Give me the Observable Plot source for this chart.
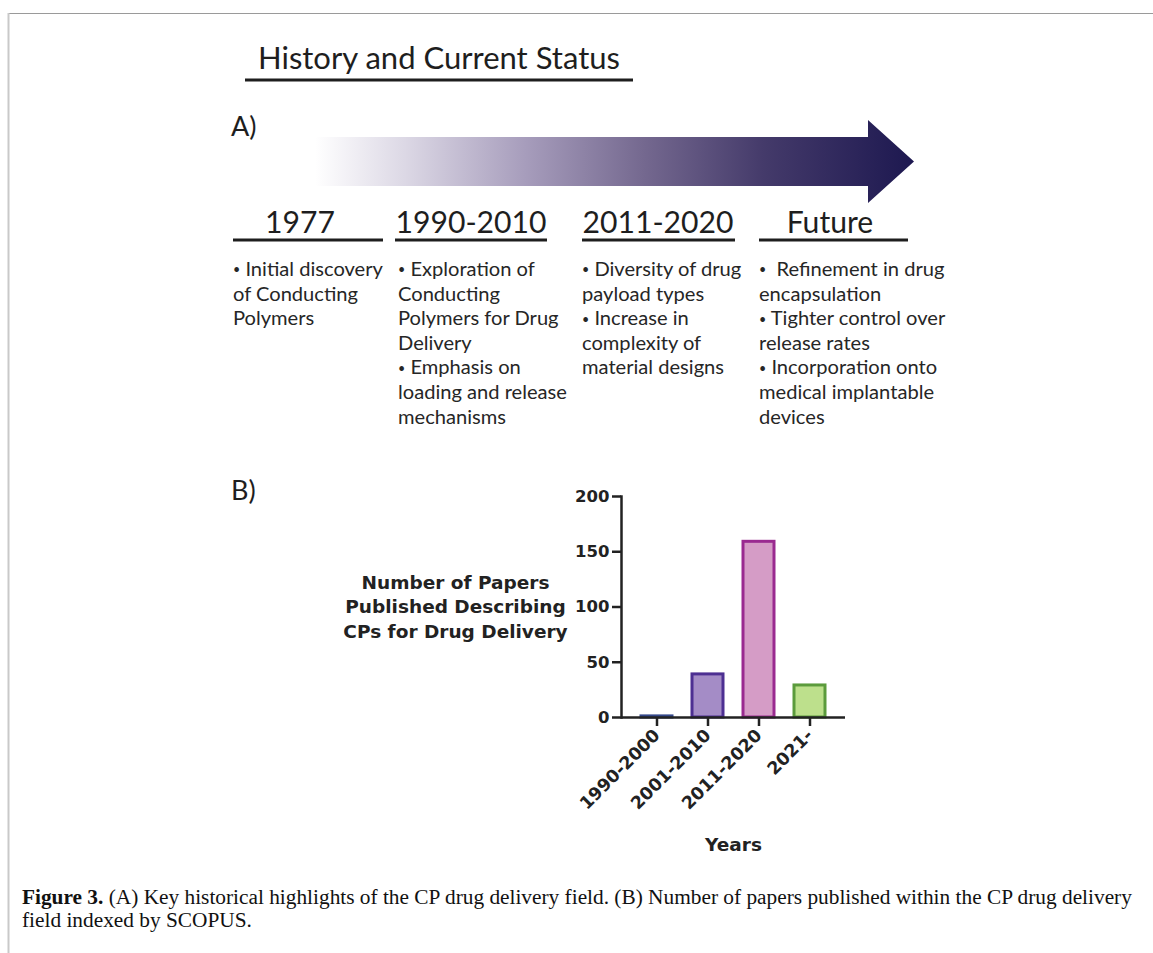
<!DOCTYPE html>
<html><head><meta charset="utf-8">
<script src="https://cdn.jsdelivr.net/npm/d3@7"></script>
<script src="https://cdn.jsdelivr.net/npm/@observablehq/plot@0.6"></script>
<style>
html,body{margin:0;padding:0;background:#fff;width:1153px;height:953px;overflow:hidden;}
#page{position:relative;width:1153px;height:953px;}
#deco{position:absolute;left:0;top:0;}
#chart{position:absolute;left:340px;top:470px;}
#caption{position:absolute;left:22px;top:886px;width:1115px;font-family:"Liberation Serif","Times New Roman",serif;color:#111;line-height:23px;white-space:nowrap;}
</style></head><body>
<div id="page">
<svg id="deco" width="1153" height="953"></svg>
<div id="chart"></div>
<div id="caption"></div>
</div>
<script>
// ---- data ----
const sectionTitle = "History and Current Status";
const periods = ["1977", "1990-2010", "2011-2020", "Future"];
const periodNotes = [
  ["• Initial discovery", "of Conducting", "Polymers"],
  ["• Exploration of", "Conducting", "Polymers for Drug", "Delivery", "• Emphasis on", "loading and release", "mechanisms"],
  ["• Diversity of drug", "payload types", "• Increase in", "complexity of", "material designs"],
  ["•  Refinement in drug", "encapsulation", "• Tighter control over", "release rates", "• Incorporation onto", "medical implantable", "devices"]
];
const decades = ["1990-2000", "2001-2010", "2011-2020", "2021-"];
const papers = [1, 39, 159, 29];
const barFills = ["#3d4f8f", "#a48cc6", "#d59cc6", "#bde08c"];
const barStrokes = ["#34488a", "#4d2f92", "#9a2a90", "#5b9b3c"];
const yTicks = [0, 50, 100, 150, 200];
const yLabel = "Number of Papers\nPublished Describing\nCPs for Drug Delivery";
const xLabel = "Years";
const captionBold = "Figure 3.";
const captionLine1 = " (A) Key historical highlights of the CP drug delivery field. (B) Number of papers published within the CP drug delivery";
const captionLine2 = "field indexed by SCOPUS.";

// ---- decoration (panel A) ----
const svg = d3.select("#deco");
const topFont = "Lato, 'Open Sans', sans-serif";
const ink = "#1e1e1e";
function fit(sel, target) {
  const w = sel.node().getComputedTextLength();
  const fs = parseFloat(sel.attr("font-size"));
  sel.attr("font-size", (fs * target / w).toFixed(2));
  return fs * target / w;
}
svg.append("line").attr("x1", 8).attr("x2", 1153).attr("y1", 13.5).attr("y2", 13.5).attr("stroke", "#9a9a9a").attr("stroke-width", 1.2);
svg.append("line").attr("x1", 8.5).attr("x2", 8.5).attr("y1", 13).attr("y2", 953).attr("stroke", "#c9c9c9").attr("stroke-width", 2);

const t = svg.append("text").attr("x", 258).attr("y", 69).attr("font-family", topFont).attr("font-size", 28).attr("fill", ink).text(sectionTitle);
fit(t, 362);
svg.append("line").attr("x1", 245).attr("x2", 633).attr("y1", 80).attr("y2", 80).attr("stroke", ink).attr("stroke-width", 3);

svg.append("text").attr("x", 231).attr("y", 136).attr("font-family", topFont).attr("font-size", 27).attr("fill", ink).text("A)");
svg.append("text").attr("x", 231).attr("y", 500).attr("font-family", topFont).attr("font-size", 27).attr("fill", ink).text("B)");

const defs = svg.append("defs");
const grad = defs.append("linearGradient").attr("id", "ag").attr("gradientUnits", "userSpaceOnUse").attr("x1", 315).attr("x2", 914).attr("y1", 0).attr("y2", 0);
[[0, "#ffffff"], [0.15, "#dcd8e5"], [0.35, "#a79dbc"], [0.55, "#74688f"], [0.75, "#443a6a"], [1, "#1d1850"]].forEach(([o, c]) => grad.append("stop").attr("offset", o).attr("stop-color", c));
svg.append("path").attr("d", "M315,137H868V120L914,161.5L868,203V186H315Z").attr("fill", "url(#ag)");

const headX = [300, 471, 658, 830];
const lineSpans = [[233, 383], [395, 547], [582, 735], [759, 908]];
const colX = [233, 398, 582, 759];
const heads = periods.map((p, i) => svg.append("text").attr("x", headX[i]).attr("y", 233).attr("text-anchor", "middle").attr("font-family", topFont).attr("font-size", 30).attr("fill", ink).text(p));
const hs = fit(heads[1], 151);
heads.forEach(h => h.attr("font-size", hs.toFixed(2)));
lineSpans.forEach(([a, b]) => svg.append("line").attr("x1", a).attr("x2", b).attr("y1", 240).attr("y2", 240).attr("stroke", ink).attr("stroke-width", 3));

const probe = svg.append("text").attr("font-family", topFont).attr("font-size", 18).text("loading and release");
const bs = fit(probe, 169);
probe.remove();
periodNotes.forEach((lines, i) => {
  lines.forEach((s, j) => {
    const tx = svg.append("text").attr("x", colX[i]).attr("y", 276 + j * 24.6).attr("font-family", topFont).attr("font-size", bs.toFixed(2)).attr("fill", "#262626").style("white-space", "pre");
    if (s.startsWith("•")) {
      tx.append("tspan").attr("font-size", (bs * 0.62).toFixed(2)).attr("dy", -1.6).text("•");
      tx.append("tspan").attr("dy", 1.6).text(s.slice(1));
    } else {
      tx.text(s);
    }
  });
});

// ---- bar chart (panel B) ----
const rows = decades.map((d, i) => ({decade: d, papers: papers[i], fill: barFills[i], stroke: barStrokes[i]}));
const chart = Plot.plot({
  width: 520,
  height: 400,
  marginLeft: 281,
  marginRight: 15,
  marginTop: 26,
  marginBottom: 153,
  style: {fontFamily: "'DejaVu Sans', sans-serif", fontWeight: "bold", background: "transparent", color: "#222"},
  x: {domain: decades, padding: 0.39, label: null},
  y: {domain: [0, 200], label: null},
  marks: [
    Plot.barY(rows, {x: "decade", y: "papers", fill: "fill", stroke: "stroke", strokeWidth: 3}),
    Plot.ruleY([0], {stroke: "#222", strokeWidth: 2.5}),
    Plot.frame({anchor: "left", stroke: "#222", strokeWidth: 2.5}),
    Plot.axisY({ticks: yTicks, tickSize: 9, tickPadding: 3, fontSize: 16.5, stroke: "#222", fill: "#222", strokeWidth: 2.5, label: null}),
    Plot.axisX({tickSize: 9, tickPadding: 6, tickRotate: -45, fontSize: 17.5, stroke: "#222", fill: "#222", strokeWidth: 2.5, label: null}),
    Plot.text([yLabel], {frameAnchor: "left", dx: -166, dy: -1.5, textAnchor: "middle", lineAnchor: "middle", fontSize: 18.5, lineHeight: 1.33, fill: "#222"}),
    Plot.text([xLabel], {frameAnchor: "bottom", dy: 128, textAnchor: "middle", lineAnchor: "middle", fontSize: 18.5, fill: "#222"})
  ]
});
document.getElementById("chart").appendChild(chart);

// ---- caption ----
const cap = document.getElementById("caption");
const l1 = document.createElement("div");
const b = document.createElement("b");
b.textContent = captionBold;
l1.appendChild(b);
l1.appendChild(document.createTextNode(captionLine1));
const l2 = document.createElement("div");
l2.textContent = captionLine2;
cap.appendChild(l1);
cap.appendChild(l2);
const meas = document.createElement("span");
meas.style.cssText = "position:absolute;visibility:hidden;white-space:nowrap;font-family:'Liberation Serif',serif;font-size:18px";
meas.innerHTML = "<b>" + captionBold + "</b>" + captionLine1;
document.body.appendChild(meas);
const cfs = 18 * 1110 / meas.getBoundingClientRect().width;
meas.remove();
cap.style.fontSize = cfs.toFixed(2) + "px";
</script>
</body></html>
